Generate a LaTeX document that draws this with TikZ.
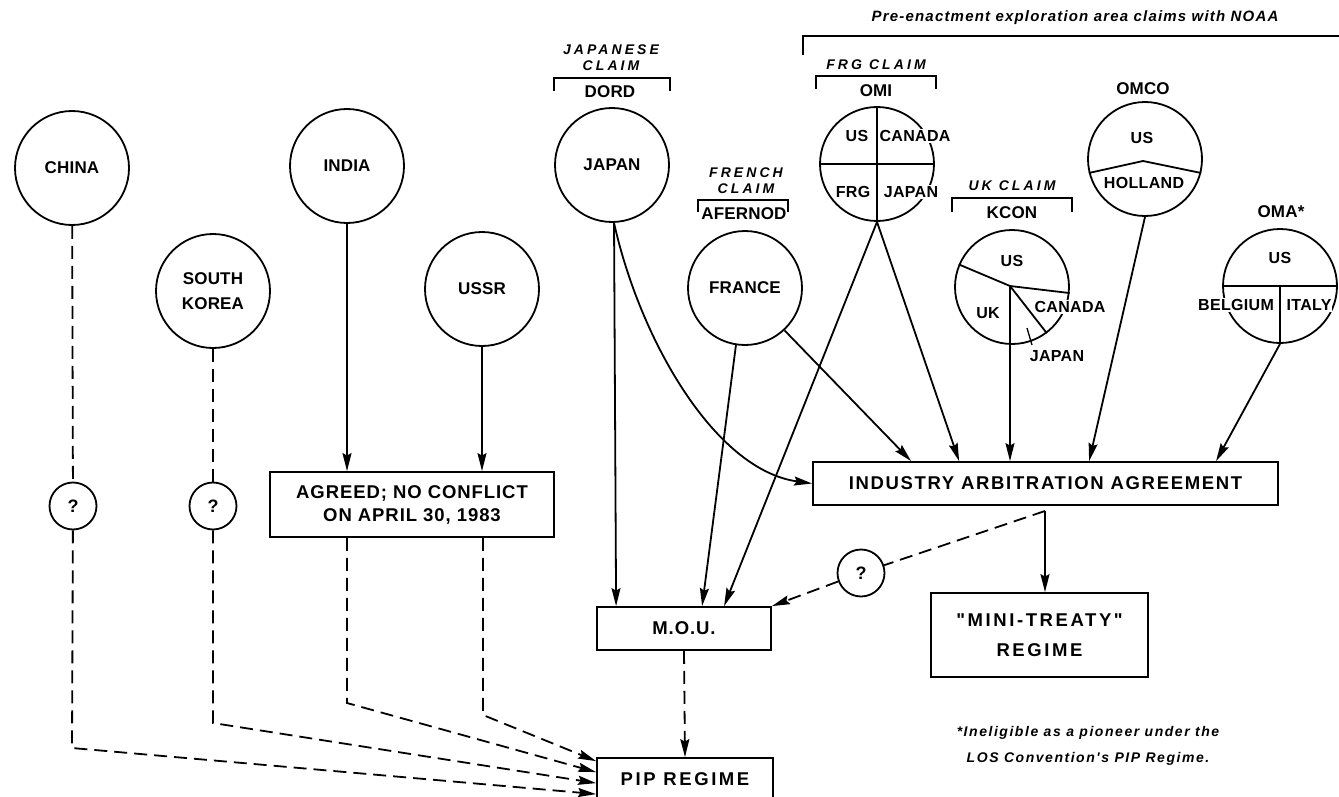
\documentclass[tikz,border=0pt]{standalone}
\usepackage{fontspec}
\usetikzlibrary{arrows.meta,calc}
\newfontfamily\lbl[LetterSpace=1]{Liberation Sans}
\newfontfamily\plf[LetterSpace=2]{Liberation Sans}
\newfontfamily\bxf[LetterSpace=5]{Liberation Sans}
\newfontfamily\bxm[LetterSpace=9]{Liberation Sans}
\newfontfamily\bxw[LetterSpace=14]{Liberation Sans}
\newfontfamily\itf[LetterSpace=22]{Liberation Sans}
\newfontfamily\ttlf[LetterSpace=8]{Liberation Sans}
\newfontfamily\ftf[LetterSpace=11]{Liberation Sans}
\begin{document}
\begin{tikzpicture}[x=1pt,y=-1pt,
  ln/.style={line width=1.8pt},
  ctry/.style={circle, draw, ln, minimum size=114pt, inner sep=0pt, align=center,
     font=\lbl\fontsize{17}{25}\selectfont\bfseries},
  pie/.style={circle, draw, ln, minimum size=114pt, inner sep=0pt},
  plab/.style={font=\plf\fontsize{16}{19}\selectfont\bfseries, inner sep=1pt},
  wlab/.style={plab, fill=white},
  sub/.style={font=\lbl\fontsize{17}{19}\selectfont\bfseries, inner sep=0pt},
  claim/.style={font=\itf\fontsize{14}{16}\selectfont\bfseries\itshape, align=center, inner sep=0pt},
  bx/.style={draw, ln, rectangle, inner sep=0pt, align=center},
  qq/.style={circle, draw, ln, minimum size=47pt, inner sep=0pt, font=\lbl\fontsize{18}{19}\selectfont\bfseries},
  arr/.style={-{Stealth[length=18pt,width=9pt,inset=2.5pt]}},
  dsh/.style={dash pattern=on 13pt off 7pt}]
\useasboundingbox (0,0) rectangle (1339,797);
\fill[white] (0,0) rectangle (1339,797);

% country circles
\node[ctry] (china) at (72,168) {CHINA};
\node[ctry] (india) at (347,166) {INDIA};
\node[ctry] (korea) at (213,291) {SOUTH\\KOREA};
\node[ctry] (ussr) at (482,289) {USSR};
\node[ctry] (japan) at (612,165) {JAPAN};
\node[ctry] (france) at (745,288) {FRANCE};
\node[pie] (omi) at (877,164) {};
\node[pie] (kcon) at (1012,287) {};
\node[pie] (omco) at (1145,159) {};
\node[pie] (oma) at (1280,286) {};

% boxes
\node[bx, minimum width=284pt, minimum height=65pt, font=\bxf\fontsize{18.5}{23}\selectfont\bfseries] (agreed) at (412,504.5) {AGREED; NO CONFLICT\\ON APRIL 30, 1983};
\node[bx, minimum width=465pt, minimum height=43pt, font=\bxm\fontsize{18.5}{23}\selectfont\bfseries] (iaa) at (1045.5,483.5) {INDUSTRY ARBITRATION AGREEMENT};
\node[bx, minimum width=217pt, minimum height=84pt, font=\bxw\fontsize{18.5}{30}\selectfont\bfseries] (mini) at (1039.5,635) {"MINI-TREATY"\\REGIME};
\node[bx, minimum width=174pt, minimum height=43pt, font=\bxf\fontsize{18.5}{23}\selectfont\bfseries] (mou) at (684,628.5) {M.O.U.};
\node[bx, minimum width=176pt, minimum height=42pt, font=\bxw\fontsize{18.5}{23}\selectfont\bfseries] (pip) at (685,779) {PIP REGIME};

% question circles
\node[qq] (qc) at (73,506) {?};
\node[qq] (qk) at (213,506) {?};
\node[qq] (qm) at (861,573) {?};

% sub labels
\node[sub] (dord) at (610,92) {DORD};
\node[sub] (omil) at (876,91) {OMI};
\node[sub] (afer) at (744,214) {AFERNOD};
\node[sub] (kconl) at (1012,213) {KCON};
\node[sub] (omcol) at (1143,89) {OMCO};
\node[sub] (omal) at (1281,212) {OMA*};

% claim labels
\node[claim] (jc) at (611,58) {JAPANESE\\CLAIM};
\node[claim] (fc) at (876,65) {FRG CLAIM};
\node[claim] (frc) at (746,181) {FRENCH\\CLAIM};
\node[claim] (ukc) at (1012,186) {UK CLAIM};
\node[font=\ttlf\fontsize{15}{18}\selectfont\bfseries\itshape, inner sep=0pt] (noaa) at (1075,18) {Pre-enactment exploration area claims with NOAA};
\node[font=\ftf\fontsize{14}{26}\selectfont\bfseries\itshape, inner sep=0pt, align=center] (foot) at (1088,746) {*Ineligible as a pioneer under the\\LOS Convention's PIP Regime.};

% brackets
\draw[ln] (554,91) -- (554,78) -- (670,78) -- (670,91);
\draw[ln] (816,89) -- (816,76) -- (936,76) -- (936,89);
\draw[ln] (698,212) -- (698,200) -- (788,200) -- (788,212);
\draw[ln] (952,212) -- (952,198) -- (1072,198) -- (1072,212);
\draw[ln] (803,55) -- (803,36) -- (1345,36);

% OMI pie
\draw[ln] (omi.north) -- (omi.south);
\draw[ln] (omi.west) -- (omi.east);
\node[plab] at (857,136) {US};
\node[wlab] at (915,136) {CANADA};
\node[plab] at (853,192) {FRG};
\node[wlab] at (911,192) {JAPAN};

% KCON pie
\coordinate (kh) at (1010,286);
\draw[ln] (kcon.157) -- (kh) -- (kcon.-6);
\draw[ln] (kh) -- (kcon.-53);
\draw[ln] (kh) -- (kcon.-92);
\node[plab] at (1012,261) {US};
\node[plab] at (988,313) {UK};
\node[wlab] at (1070,307) {CANADA};
\node[plab] (kjap) at (1057,356) {JAPAN};
\draw[line width=1.3pt] (1027,328) -- (1032,345);

% OMCO pie
\coordinate (oapex) at (1143,161);
\draw[ln] (omco.194) -- (oapex) -- (omco.-14);
\node[plab] at (1142,138) {US};
\node[plab] at (1144,183) {HOLLAND};

% OMA pie
\draw[ln] (oma.west) -- (oma.east);
\draw[ln] (oma.center) -- (oma.south);
\node[plab] at (1280,258) {US};
\node[wlab] at (1236,305) {BELGIUM};
\node[wlab] at (1309,305) {ITALY};

% coordinates at PIP
\coordinate (pinA) at ($(pip.north west)+(0,4)$);
\coordinate (pinB) at ($(pip.north west)+(0,15)$);
\coordinate (pinC) at ($(pip.north west)+(0,26)$);
\coordinate (pinD) at ($(pip.north west)+(0,37)$);
\coordinate (c1) at (72,748);
\coordinate (c2) at (213,723);
\coordinate (c3) at (347,703);
\coordinate (c4) at (483,715);
\coordinate (J) at (1045,511);

% left connectors
\draw[ln,dsh] (china) -- (qc);
\draw[ln,dsh,arr] (qc) -- (c1) -- (pinD);
\draw[ln,dsh] (korea) -- (qk);
\draw[ln,dsh,arr] (qk) -- (c2) -- (pinC);
\draw[ln,arr] (india) -- (india |- agreed.north);
\draw[ln,arr] (ussr) -- (ussr |- agreed.north);
\draw[ln,dsh,arr] (india |- agreed.south) -- (c3) -- (pinB);
\draw[ln,dsh,arr] (c4 |- agreed.south) -- (c4) -- (pinA);

% claims connectors
\draw[ln,arr] (japan.-88) -- ($(mou.north west)+(20,0)$);
\draw[ln,arr] (japan.-88) .. controls (640,340) and (715,470) .. (iaa.west);
\draw[ln,arr] (france.-99) -- ($(mou.north west)+(106,0)$);
\draw[ln,arr] (france.-47) -- ($(iaa.north west)+(99,0)$);
\draw[ln,arr] (omi.south) -- ($(mou.north west)+(128,0)$);
\draw[ln,arr] (omi.south) -- ($(iaa.north west)+(147,0)$);
\draw[ln,arr] (kcon.-92) -- (kcon.-92 |- iaa.north);
\draw[ln,arr] (omco.south) -- ($(iaa.north west)+(277,0)$);
\draw[ln,arr] (oma.south) -- ($(iaa.north west)+(404,0)$);

% lower right
\draw[ln,arr] (J) -- (J |- mini.north);
\draw[ln,dsh] (J) -- (qm);
\draw[ln,dsh,arr] (qm) -- (mou.north east);
\draw[ln,dsh,arr] (mou.south) -- (pip.north);
\end{tikzpicture}
\end{document}
